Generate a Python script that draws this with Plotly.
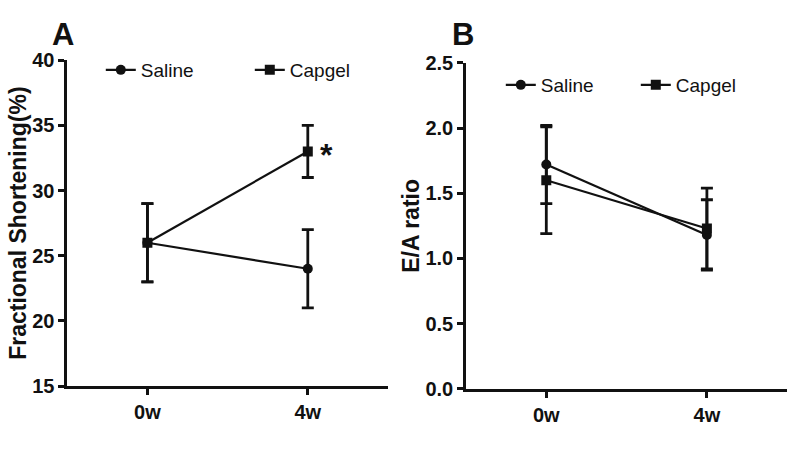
import plotly.graph_objects as go

timepoints = ["0w", "4w"]

fs_saline = [26, 24]
fs_saline_err = [3, 3]
fs_capgel = [26, 33]
fs_capgel_err = [3, 2]

ea_saline = [1.72, 1.18]
ea_saline_err = [0.30, 0.27]
ea_capgel = [1.60, 1.23]
ea_capgel_err = [0.41, 0.31]

fs_ticks = [15, 20, 25, 30, 35, 40]
ea_ticks = [0.0, 0.5, 1.0, 1.5, 2.0, 2.5]
ea_ticklabels = ["0.0", "0.5", "1.0", "1.5", "2.0", "2.5"]

xi = [0, 1]
BLACK = "#111111"
FONT = "Liberation Sans Narrow, Arial Narrow, Liberation Sans, Arial, sans-serif"
FONT_REG = "Liberation Sans, Arial, sans-serif"

fig = go.Figure()

def add_series(x_axis, y_axis, y, err, name, symbol, legend):
    fig.add_trace(go.Scatter(
        x=xi, y=y, xaxis=x_axis, yaxis=y_axis, name=name, legend=legend,
        mode="lines+markers",
        line=dict(color=BLACK, width=2.2),
        marker=dict(symbol=symbol, size=10, color=BLACK),
        error_y=dict(type="data", array=err, visible=True, color=BLACK,
                     thickness=2.8, width=6),
    ))

add_series("x", "y", fs_saline, fs_saline_err, "Saline", "circle", "legend")
add_series("x", "y", fs_capgel, fs_capgel_err, "Capgel", "square", "legend")
add_series("x2", "y2", ea_saline, ea_saline_err, "Saline", "circle", "legend2")
add_series("x2", "y2", ea_capgel, ea_capgel_err, "Capgel", "square", "legend2")

axis_common = dict(
    showline=True, linecolor=BLACK, linewidth=2.5,
    ticks="outside", ticklen=6, tickwidth=2.5, tickcolor=BLACK,
    showgrid=False, zeroline=False, automargin=False,
    tickfont=dict(family=FONT, size=20, color=BLACK, weight="bold"),
)

fig.update_layout(
    width=800, height=449,
    margin=dict(l=0, r=0, t=0, b=0, autoexpand=False),
    paper_bgcolor="white", plot_bgcolor="white",
    showlegend=True,
    xaxis=dict(domain=[0.084, 0.485], range=[-0.5, 1.5], anchor="y",
               tickvals=xi, ticktext=timepoints, **axis_common),
    yaxis=dict(domain=[0.140, 0.866], range=[15, 40], anchor="x",
               tickvals=fs_ticks,
               title=dict(text="<b>Fractional Shortening(%)</b>", standoff=0,
                          font=dict(family=FONT_REG, size=23, color=BLACK)),
               **axis_common),
    xaxis2=dict(domain=[0.5825, 0.984], range=[-0.5, 1.5], anchor="y2",
                tickvals=xi, ticktext=timepoints, **axis_common),
    yaxis2=dict(domain=[0.134, 0.860], range=[0, 2.5], anchor="x2",
                tickvals=ea_ticks, ticktext=ea_ticklabels,
                title=dict(text="<b>E/A ratio</b>", standoff=0,
                           font=dict(family=FONT_REG, size=23, color=BLACK)),
                **axis_common),
    legend=dict(orientation="h", x=0.126, y=1 - 70 / 449, xanchor="left", yanchor="middle",
                font=dict(family=FONT_REG, size=19, color=BLACK),
                bgcolor="rgba(0,0,0,0)", entrywidth=104, entrywidthmode="pixels",
                itemwidth=30),
    legend2=dict(orientation="h", x=0.626, y=1 - 85 / 449, xanchor="left", yanchor="middle",
                 font=dict(family=FONT_REG, size=19, color=BLACK),
                 bgcolor="rgba(0,0,0,0)", entrywidth=90, entrywidthmode="pixels",
                 itemwidth=30),
    annotations=[
        dict(text="<b>A</b>", x=63 / 800, y=1 - 35 / 449, xref="paper", yref="paper",
             xanchor="center", yanchor="middle", showarrow=False,
             font=dict(family=FONT_REG, size=31, color=BLACK)),
        dict(text="<b>B</b>", x=463 / 800, y=1 - 35 / 449, xref="paper", yref="paper",
             xanchor="center", yanchor="middle", showarrow=False,
             font=dict(family=FONT_REG, size=31, color=BLACK)),
        dict(text="<b>*</b>", x=1, y=fs_capgel[1], xref="x", yref="y",
             xshift=19, yshift=-4, showarrow=False,
             font=dict(family=FONT_REG, size=32, color=BLACK)),
    ],
)

fig.write_html("out.html", config={"displayModeBar": False},
               post_script="document.body.style.margin='0';document.body.style.overflow='hidden';")
